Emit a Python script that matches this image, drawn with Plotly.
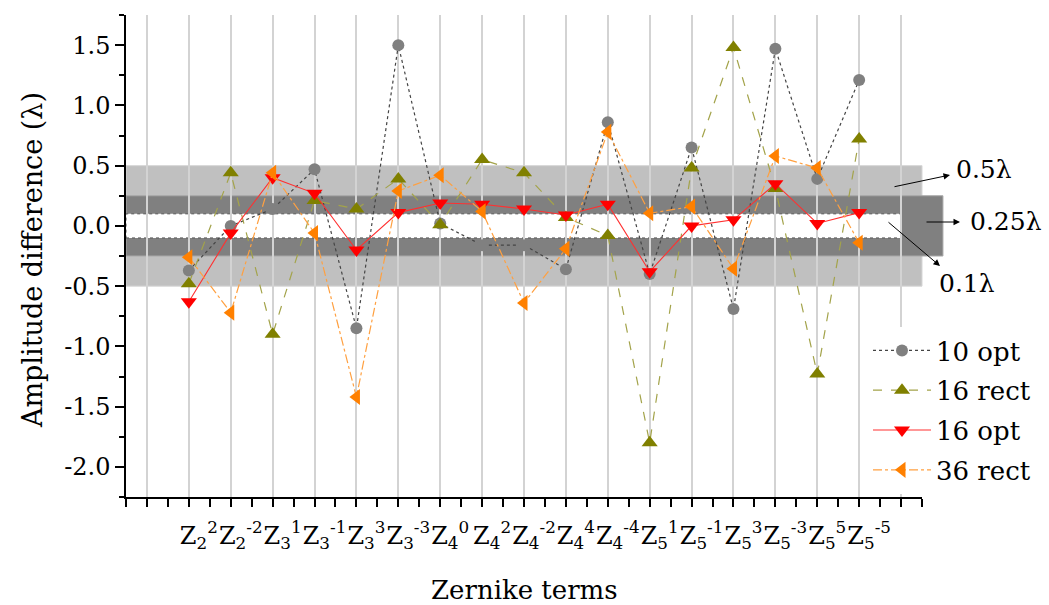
import plotly.graph_objects as go

# Zernike term indices (radial order n, azimuthal frequency m)
zernike_n = [2, 2, 3, 3, 3, 3, 4, 4, 4, 4, 4, 5, 5, 5, 5, 5, 5]
zernike_m = ["2", "-2", "1", "-1", "3", "-3", "0", "2", "-2", "4", "-4",
             "1", "-1", "3", "-3", "5", "-5"]
positions = list(range(1, len(zernike_n) + 1))

# Amplitude difference (in wavelengths) for each configuration
opt10 = [-0.37, 0.00, 0.14, 0.47, -0.85, 1.50, 0.02, -0.16, -0.16, -0.36,
         0.86, -0.40, 0.65, -0.69, 1.47, 0.39, 1.21]
rect16 = [-0.48, 0.44, -0.90, 0.21, 0.14, 0.39, 0.01, 0.55, 0.44, 0.07,
          -0.08, -1.80, 0.48, 1.48, 0.31, -1.23, 0.72]
opt16 = [-0.63, -0.06, 0.40, 0.27, -0.20, 0.11, 0.19, 0.18, 0.14, 0.09,
         0.18, -0.38, 0.00, 0.05, 0.35, 0.02, 0.11]
rect36 = [-0.26, -0.72, 0.44, -0.06, -1.42, 0.29, 0.42, 0.12, -0.64, -0.19,
          0.78, 0.105, 0.16, -0.355, 0.58, 0.48, -0.14]

y_ticks = [1.5, 1.0, 0.5, 0.0, -0.5, -1.0, -1.5, -2.0]
y_tick_text = ["1.5", "1.0", "0.5", "0.0", "-0.5", "-1.0", "-1.5", "-2.0"]

# Tolerance bands (half-widths in wavelengths)
bands = [0.5, 0.25, 0.1]

FONT = "DejaVu Serif"
X_RANGE = [-0.5, 18.5]
Y_RANGE = [-2.25, 1.75]

x_tick_text = [f"Z<sub>{n}</sub><sup>{m}</sup>" for n, m in zip(zernike_n, zernike_m)]

fig = go.Figure()

series = [
    ("10 opt", opt10, dict(symbol="circle", size=12, color="#808080"),
     dict(color="#444444", width=1.2, dash="dot")),
    ("16 rect", rect16, dict(symbol="triangle-up", size=14, color="#808000"),
     dict(color="#a3a34a", width=1.2, dash="dash")),
    ("16 opt", opt16, dict(symbol="triangle-down", size=14, color="#ff0000"),
     dict(color="#ff3030", width=1.1, dash="solid")),
    ("36 rect", rect36, dict(symbol="triangle-left", size=14, color="#ff8000"),
     dict(color="#ffa040", width=1.2, dash="dashdot")),
]
for name, vals, marker, line in series:
    fig.add_trace(go.Scatter(
        x=positions, y=vals, name=name, legendgroup=name,
        mode="lines+markers", marker=marker, line=line, cliponaxis=False,
    ))


def xfrac(x):
    return (x - X_RANGE[0]) / (X_RANGE[1] - X_RANGE[0])


# Tolerance bands, drawn beneath the grid
band_specs = [
    (bands[0], xfrac(18.5), "#c0c0c0", dict(color="#d6d6d6", width=1)),
    (bands[1], xfrac(19.0), "#808080", dict(color="#a8a8a8", width=1)),
    (bands[2], xfrac(18.0), "#ffffff", dict(color="#555555", width=1, dash="dot")),
]
for half, right, fill, edge in band_specs:
    fig.add_shape(type="rect", xref="paper", yref="y", x0=0, x1=right,
                  y0=-half, y1=half, fillcolor=fill, line=edge, layer="below")

# Band labels with arrows
arrow_style = dict(showarrow=True, arrowhead=2, arrowsize=1.3, arrowwidth=1,
                   arrowcolor="black", xref="paper", yref="paper", text="")
L, R, T, B = 126, 922, 15, 497


def px(xp):
    return (xp - L) / (R - L)


def py(yp):
    return (B - yp) / (B - T)


fig.add_annotation(x=px(950), y=py(175), ax=-57, ay=12, **arrow_style)
fig.add_annotation(x=px(960), y=py(222), ax=-35, ay=0, **arrow_style)
fig.add_annotation(x=px(940), y=py(266), ax=-53, ay=-45, **arrow_style)

label_font = dict(family=FONT, size=25, color="black")
for text, cx, cy in [("0.5λ", 984, 169), ("0.25λ", 1006, 221), ("0.1λ", 967, 283)]:
    fig.add_annotation(x=px(cx), y=py(cy), xref="paper", yref="paper",
                       text=text, showarrow=False, font=label_font,
                       xanchor="center", yanchor="middle")

# axis titles
fig.add_annotation(x=0.5, y=py(590), xref="paper", yref="paper",
                   text="Zernike terms", showarrow=False,
                   font=dict(family=FONT, size=26, color="black"),
                   xanchor="center", yanchor="middle")
fig.add_annotation(x=px(32), y=py(260), xref="paper", yref="paper",
                   text="Amplitude difference (λ)", showarrow=False, textangle=-90,
                   font=dict(family=FONT, size=27, color="black"),
                   xanchor="center", yanchor="middle")

fig.update_layout(
    width=1049, height=605,
    margin=dict(l=L, r=1049 - R, t=T, b=605 - B),
    paper_bgcolor="white", plot_bgcolor="rgba(0,0,0,0)",
    font=dict(family=FONT, size=24, color="black"),
    showlegend=True,
    legend=dict(
        x=px(868), y=py(327), xanchor="left", yanchor="top",
        bgcolor="white", borderwidth=0,
        font=dict(family=FONT, size=26, color="black"),
        tracegroupgap=3, itemwidth=58,
    ),
)

fig.add_trace(go.Scatter(x=[0, 18], y=[None, None], showlegend=False, hoverinfo="skip"))

fig.update_xaxes(
    range=X_RANGE, showgrid=True, gridcolor="#d3d3d3", gridwidth=1.5,
    tickmode="array", tickvals=[0] + positions + [18],
    ticktext=[""] + x_tick_text + [""], tickangle=0,
    ticks="outside", ticklen=8, tickwidth=1.5, tickcolor="black",
    showline=True, linecolor="black", linewidth=1.5, zeroline=False,
    ticklabelshift=10, ticklabelstandoff=8, automargin=False,
    tickfont=dict(family=FONT, size=24, color="black"),
    minor=dict(tickmode="linear", tick0=-0.5, dtick=0.5, ticks="outside",
               ticklen=8, tickwidth=1.5, tickcolor="black", showgrid=False),
)

fig.update_yaxes(
    range=Y_RANGE, showgrid=False, zeroline=False,
    tickmode="array", tickvals=y_ticks, ticktext=y_tick_text,
    ticks="outside", ticklen=9, tickwidth=1.5, tickcolor="black",
    showline=True, linecolor="black", linewidth=1.5, automargin=False,
    tickfont=dict(family=FONT, size=24, color="black"),
    minor=dict(tickmode="linear", tick0=0, dtick=0.25, ticks="outside",
               ticklen=5, tickwidth=1.5, tickcolor="black", showgrid=False),
)

fig.write_html("out.html")
